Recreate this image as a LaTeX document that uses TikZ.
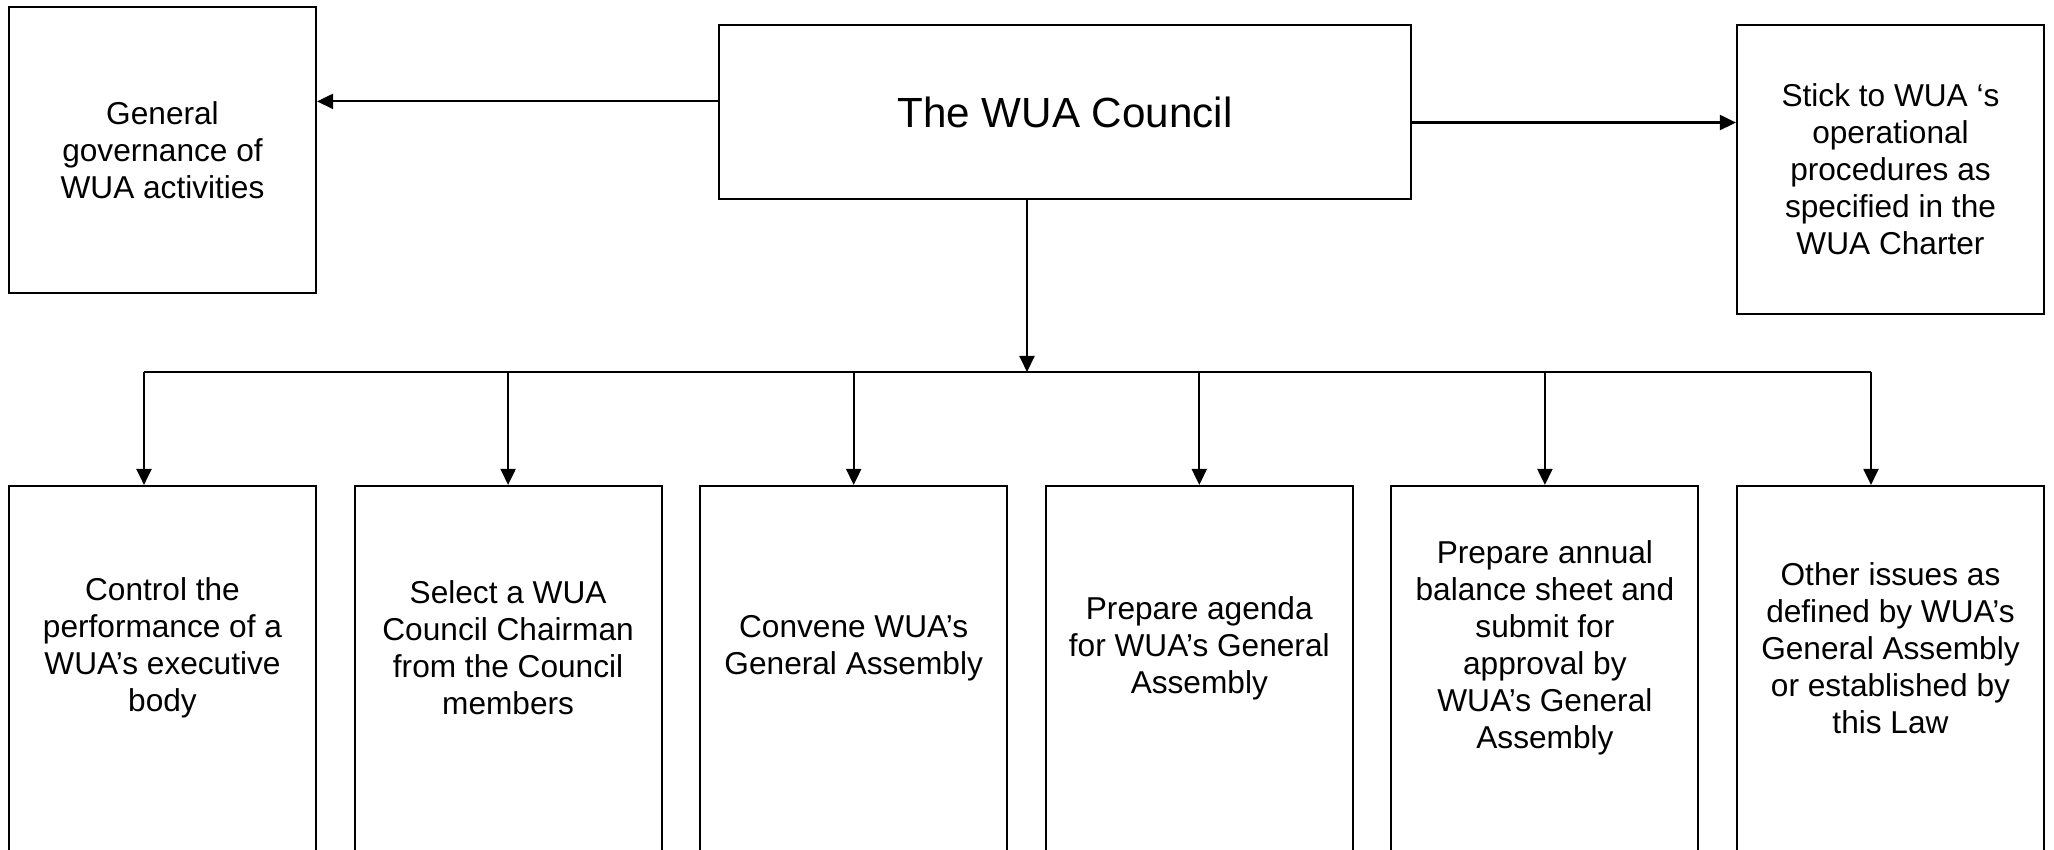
\documentclass[tikz,border=0pt]{standalone}
\usepackage{fontspec}
\setmainfont{Liberation Sans}
\usepackage{tikz}
\usetikzlibrary{positioning,calc,arrows.meta}
\tikzstyle{box} = [rectangle, draw=black, line width=0.6pt, minimum width=3.07cm, inner sep=0pt, align=center, font=\fontsize{9}{10.5}\selectfont]
\tikzstyle{txt} = [align=center, inner sep=0pt, font=\fontsize{9}{10.5}\selectfont]
\tikzstyle{arrow} = [line width=0.6pt, -{Triangle[length=0.16cm,width=0.15cm]}]

\begin{document}
\begin{tikzpicture}
\useasboundingbox (0,0) rectangle (20.54,8.5);
\node (council) at (10.65,7.38) [box, minimum width=6.92cm, minimum height=1.74cm, font=\fontsize{12}{14}\selectfont] {The WUA Council};
\node (gov) at (1.625,7.0) [box, minimum height=2.86cm] {General\\governance of\\WUA activities};
\node (stick) at (18.905,6.805) [box, minimum height=2.89cm] {Stick to WUA ‘s\\operational\\procedures as\\specified in the\\WUA Charter};
% bottom row, boxes run past the lower edge
\node (b1) at (1.625,1.62) [box, minimum height=4.04cm] {};
\node (b2) at (5.081,1.62) [box, minimum height=4.04cm] {};
\node (b3) at (8.537,1.62) [box, minimum height=4.04cm] {};
\node (b4) at (11.993,1.62) [box, minimum height=4.04cm] {};
\node (b5) at (15.449,1.62) [box, minimum height=4.04cm] {};
\node (b6) at (18.905,1.62) [box, minimum height=4.04cm] {};
\node (t1) at (1.625,2.02) [txt] {Control the\\performance of a\\WUA’s executive\\body};
\node (t2) at (5.081,2.02) [txt] {Select a WUA\\Council Chairman\\from the Council\\members};
\node (t3) at (8.537,2.02) [txt] {Convene WUA’s\\General Assembly};
\node (t4) at (11.993,2.02) [txt] {Prepare agenda\\for WUA’s General\\Assembly};
\node (t5) at (15.449,2.02) [txt] {Prepare annual\\balance sheet and\\submit for\\approval by\\WUA’s General\\Assembly};
\node (t6) at (18.905,2.02) [txt] {Other issues as\\defined by WUA’s\\General Assembly\\or established by\\this Law};
% side arrows
\coordinate (la) at ($(council.north west)!0.44!(council.south west)$);
\coordinate (ra) at ($(council.north east)!0.56!(council.south east)$);
\draw[arrow] (la) -- (la -| gov.east);
\draw[arrow] (ra) -- (ra -| stick.west);
% bus
\coordinate (bus) at (10.27,4.78);
\coordinate (j1) at (1.44,4.78);
\coordinate (j6) at (18.71,4.78);
\draw[arrow] (council.south -| bus) -- (bus);
\draw[line width=0.6pt] (j1) -- (j6);
\draw[arrow] (j1) -- (j1 |- b1.north);
\draw[arrow] (b2.north |- bus) -- (b2.north);
\draw[arrow] (b3.north |- bus) -- (b3.north);
\draw[arrow] (b4.north |- bus) -- (b4.north);
\draw[arrow] (b5.north |- bus) -- (b5.north);
\draw[arrow] (j6) -- (j6 |- b6.north);
\end{tikzpicture}
\end{document}
